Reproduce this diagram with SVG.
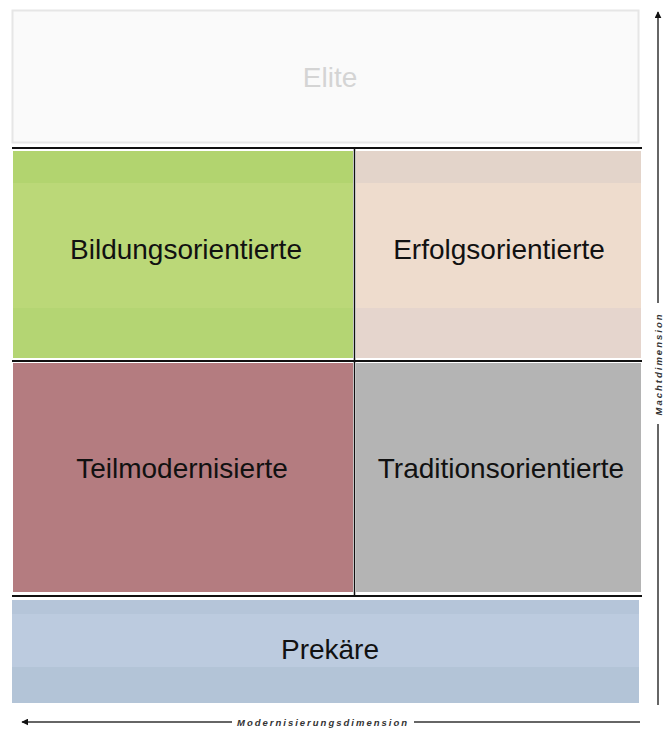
<svg xmlns="http://www.w3.org/2000/svg" width="665" height="729" viewBox="0 0 665 729">
<defs>
<style>
.lbl{font-family:"Liberation Sans",Arial,sans-serif;font-size:28px;fill:#111;text-anchor:middle}
.axis{font-family:"Liberation Sans",Arial,sans-serif;font-size:9.5px;font-style:italic;font-weight:bold;fill:#333;letter-spacing:2px;text-anchor:middle}
.sep{stroke:#111;stroke-width:2;fill:none}
.ax{stroke:#333;stroke-width:1.5;fill:none}
</style>
<marker id="ah" viewBox="0 0 10 10" refX="9" refY="5" markerWidth="7" markerHeight="7" orient="auto-start-reverse" markerUnits="userSpaceOnUse">
<path d="M0,0 L10,5 L0,10 z" fill="#111"/>
</marker>
</defs>
<rect width="665" height="729" fill="#ffffff"/>
<g id="elite">
<rect x="12.5" y="10.5" width="626" height="132" fill="#fafafa" stroke="#e6e6e6" stroke-width="2"/>
<text class="lbl" x="330" y="87" style="fill:#d4d4d4">Elite</text>
</g>
<g id="bildungsorientierte">
<rect x="13" y="151" width="340" height="207" fill="#bbd878"/>
<rect x="13" y="151" width="340" height="32" fill="#b2d46f"/>
<rect x="13" y="308" width="340" height="50" fill="#b4d573"/>
<text class="lbl" x="186" y="259">Bildungsorientierte</text>
</g>
<g id="erfolgsorientierte">
<rect x="356" y="151" width="285" height="207" fill="#eedccd"/>
<rect x="356" y="151" width="285" height="32" fill="#e3d4ca"/>
<rect x="356" y="308" width="285" height="50" fill="#e5d5cd"/>
<text class="lbl" x="499" y="259">Erfolgsorientierte</text>
</g>
<g id="teilmodernisierte">
<rect x="13" y="363" width="340" height="229" fill="#b47c80"/>
<text class="lbl" x="182" y="478">Teilmodernisierte</text>
</g>
<g id="traditionsorientierte">
<rect x="356" y="363" width="285" height="229" fill="#b4b4b4"/>
<text class="lbl" x="501" y="478">Traditionsorientierte</text>
</g>
<g id="prekaere">
<rect x="12" y="600" width="627" height="103" fill="#bccbdf"/>
<rect x="12" y="600" width="627" height="14" fill="#b5c5d9"/>
<rect x="12" y="667" width="627" height="36" fill="#b3c4d7"/>
<text class="lbl" x="330" y="659">Prekäre</text>
</g>
<g id="connectors">
<line class="sep" x1="12" y1="148" x2="642" y2="148"/>
<line class="sep" x1="12" y1="361" x2="642" y2="361"/>
<line class="sep" x1="12" y1="596" x2="642" y2="596"/>
<line stroke="#111" stroke-width="1.5" x1="354.5" y1="148" x2="354.5" y2="596"/>
<line class="ax" x1="658" y1="705" x2="658" y2="424"/>
<line class="ax" x1="658" y1="303" x2="658" y2="12" marker-end="url(#ah)"/>
<line class="ax" x1="640" y1="722" x2="414" y2="722"/>
<line class="ax" x1="232" y1="722" x2="22" y2="722" marker-end="url(#ah)"/>
<text class="axis" x="323" y="725.5">Modernisierungsdimension</text>
<text class="axis" transform="translate(661.5,364) rotate(-90)" x="0" y="0">Machtdimension</text>
</g>
</svg>
